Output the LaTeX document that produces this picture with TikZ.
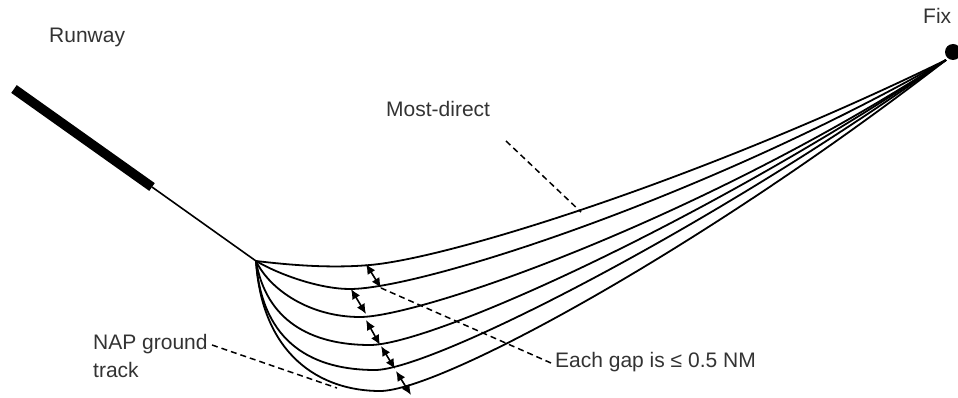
\documentclass[tikz,border=0pt]{standalone}
\usepackage{fontspec}
\setmainfont{Liberation Sans}
\usetikzlibrary{arrows.meta}
\definecolor{txt}{HTML}{333333}
\begin{document}
\begin{tikzpicture}[x=1pt,y=-1pt,
  track/.style={line width=1.8pt, line join=round},
  leader/.style={line width=1.5pt, dash pattern=on 6pt off 4pt},
  gaparrow/.style={line width=1.6pt, {Latex[length=10pt,width=9pt]}-{Latex[length=10pt,width=9pt]}},
  lbl/.style={font=\fontsize{21}{26}\selectfont, text=txt, inner sep=0pt, anchor=base west}]
\useasboundingbox (0,0) rectangle (958,398);
\fill[white] (0,0) rectangle (958,398);
% coordinates
\coordinate (RW1) at (14,89);
\coordinate (RW2) at (152,187);
\coordinate (A) at (256,261);
\coordinate (F) at (946,60);
% runway and approach line
\draw[line width=9.5pt] (RW1) -- (RW2);
\draw[line width=1.6pt] (RW2) -- (A);
% NAP tracks
\draw[track] (A) .. controls (290,265) and (330,268.5) .. (370,265) .. controls (450,258) and (700,180) .. (F);
\draw[track] (A) .. controls (280,275) and (320,289) .. (350,289) .. controls (420,289) and (700,200) .. (F);
\draw[track] (A) .. controls (270,290) and (310,317) .. (360,317) .. controls (420,317) and (700,220) .. (F);
\draw[track] (A) .. controls (266,320) and (310,345) .. (370,345) .. controls (430,345) and (700,225) .. (F);
\draw[track] (A) .. controls (262,345) and (315,370) .. (375,370) .. controls (430,370) and (700,235) .. (F);
\draw[track] (A) .. controls (262,355) and (320,391) .. (380,391) .. controls (440,391) and (700,250) .. (F);
% fix
\fill (953,52) circle (8);
\node[lbl] (fix) at (923,24) {Fix};
\node[lbl] (runway) at (49,43) {Runway};
% gap arrows
\coordinate (g1a) at (366,264); \coordinate (g1b) at (381,288);
\coordinate (g2a) at (351,289); \coordinate (g2b) at (366,314);
\coordinate (g3a) at (366,320); \coordinate (g3b) at (380,345);
\coordinate (g4a) at (381,346); \coordinate (g4b) at (395,369);
\coordinate (g5a) at (396,371); \coordinate (g5b) at (411,395);
\draw[gaparrow] (g1a) -- (g1b);
\draw[gaparrow] (g2a) -- (g2b);
\draw[gaparrow] (g3a) -- (g3b);
\draw[gaparrow] (g4a) -- (g4b);
\draw[gaparrow] (g5a) -- (g5b);
% labels and leaders
\node[lbl] (most) at (386,117) {Most-direct};
\coordinate (m1) at (506,141); \coordinate (m2) at (581,212);
\draw[leader] (m1) -- (m2);
\node[lbl] (gap) at (555,367) {Each gap is ≤ 0.5 NM};
\coordinate (e1) at (551,363);
\draw[leader] (e1) -- (g1b);
\node[lbl] (nap) at (93,349) {NAP ground};
\node[lbl] (nap2) at (93,377) {track};
\coordinate (n1) at (212,345); \coordinate (n2) at (337,388);
\draw[leader] (n1) -- (n2);
\end{tikzpicture}
\end{document}
